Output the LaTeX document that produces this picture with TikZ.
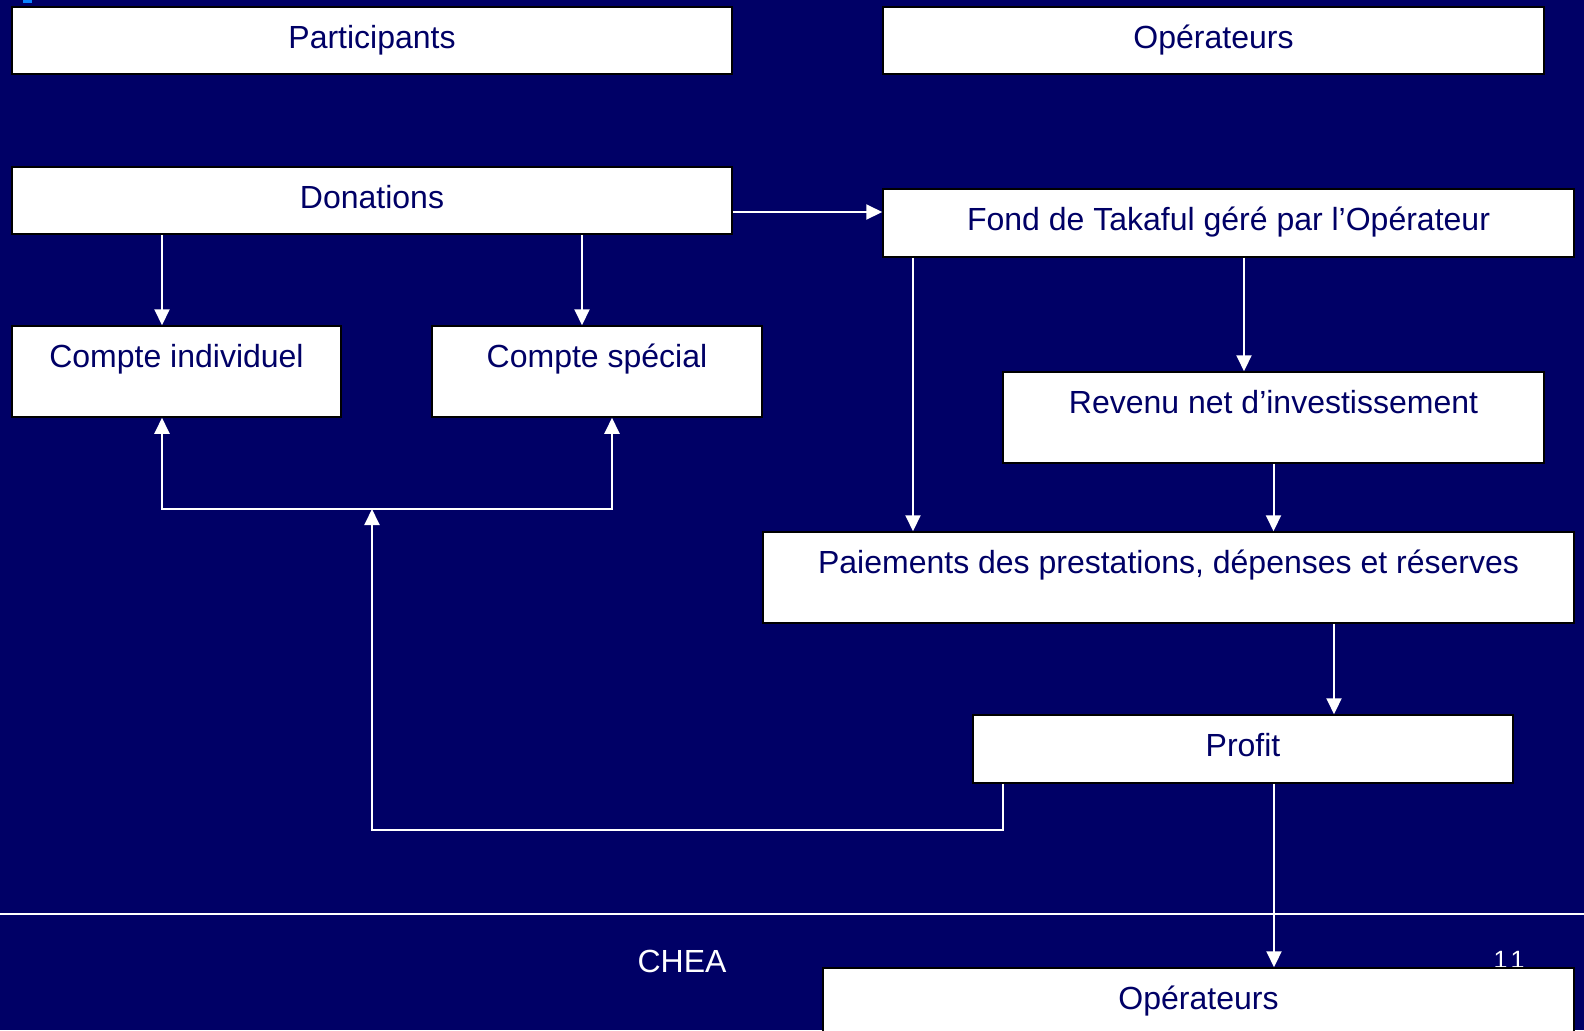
\documentclass[tikz,border=0pt]{standalone}
\usepackage{fontspec}
\setmainfont{Liberation Sans}
\usetikzlibrary{arrows.meta}
\definecolor{navy}{HTML}{000066}
\definecolor{markblue}{HTML}{0A84FF}
\begin{document}
\begin{tikzpicture}[x=0.5pt,y=-0.5pt,
  box/.style={draw=black, line width=0.75pt, fill=white, rectangle, inner sep=0pt},
  lbl/.style={text=navy, anchor=base, inner sep=0pt, font=\fontsize{16}{19}\selectfont},
  arr/.style={draw=white, line width=1pt, -{Triangle[width=7.5pt,length=8pt]}},
  wire/.style={draw=white, line width=1pt}]
\fill[navy] (0,0) rectangle (1584,1030);
\useasboundingbox (0,0) rectangle (1584,1030);
\fill[markblue] (23,0) rectangle (32,3);

% footer
\draw[wire] (0,914) -- (1584,914);
\node[text=white, anchor=base, inner sep=0pt, font=\fontsize{16}{19}\selectfont] (chea) at (682,972) {CHEA};
\node[text=white, anchor=base, inner sep=0pt, font=\fontsize{12.5}{14}\selectfont] (pg) at (1509,968) {1\kern1.5pt1};

% boxes
\node[box, minimum width=360pt, minimum height=33.5pt] (part) at (372,40.5) {};
\node[lbl] (tpart) at ([yshift=-21.3pt]part.north) {Participants};
\node[box, minimum width=330.5pt, minimum height=33.5pt] (opt) at (1213.5,40.5) {};
\node[lbl] (topt) at ([yshift=-21.3pt]opt.north) {Opérateurs};
\node[box, minimum width=360pt, minimum height=33.5pt] (don) at (372,200.5) {};
\node[lbl] (tdon) at ([yshift=-21.3pt]don.north) {Donations};
\node[box, minimum width=345.5pt, minimum height=34pt] (fond) at (1228.5,223) {};
\node[lbl] (tfond) at ([yshift=-21.3pt]fond.north) {Fond de Takaful géré par l’Opérateur};
\node[box, minimum width=164.5pt, minimum height=45.5pt] (ci) at (176.5,371.5) {};
\node[lbl] (tci) at ([yshift=-21.3pt]ci.north) {Compte individuel};
\node[box, minimum width=165pt, minimum height=45.5pt] (cs) at (597,371.5) {};
\node[lbl] (tcs) at ([yshift=-21.3pt]cs.north) {Compte spécial};
\node[box, minimum width=270.5pt, minimum height=45.5pt] (rev) at (1273.5,417.5) {};
\node[lbl] (trev) at ([yshift=-21.3pt]rev.north) {Revenu net d’investissement};
\node[box, minimum width=405.5pt, minimum height=45.5pt] (pai) at (1168.5,577.5) {};
\node[lbl] (tpai) at ([yshift=-21.3pt]pai.north) {Paiements des prestations, dépenses et réserves};
\node[box, minimum width=270pt, minimum height=34pt] (prof) at (1243,749) {};
\node[lbl] (tprof) at ([yshift=-21.3pt]prof.north) {Profit};
\node[box, minimum width=375.5pt, minimum height=46pt] (opb) at (1198.5,1014) {};
\node[lbl] (topb) at ([yshift=-21.3pt]opb.north) {Opérateurs};

% connector positions
\coordinate (a1) at (162,0);
\coordinate (a2) at (582,0);
\coordinate (a3) at (0,212);
\coordinate (a4) at (913,0);
\coordinate (a5) at (1244,0);
\coordinate (a7) at (1334,0);
\coordinate (a8) at (1274,0);
\coordinate (a9) at (1003,830);
\coordinate (a9b) at (372,509);
\coordinate (h1) at (162,509);
\coordinate (h2) at (612,509);

\draw[arr] (a1 |- don.south) -- (a1 |- ci.north);
\draw[arr] (a2 |- don.south) -- (a2 |- cs.north);
\draw[arr] (a3 -| don.east) -- (a3 -| fond.west);
\draw[arr] (a4 |- fond.south) -- (a4 |- pai.north);
\draw[arr] (a5 |- fond.south) -- (a5 |- rev.north);
\draw[arr] (rev.south) -- (rev.south |- pai.north);
\draw[arr] (a7 |- pai.south) -- (a7 |- prof.north);
\draw[arr] (a8 |- prof.south) -- (a8 |- opb.north);
\draw[arr] (a9 |- prof.south) -- (a9) -| (a9b);
\draw[draw=white, line width=1pt, {Triangle[width=7.5pt,length=8pt]}-{Triangle[width=7.5pt,length=8pt]}]
  (h1 |- ci.south) -- (h1) -- (h2) -- (h2 |- cs.south);
\end{tikzpicture}
\end{document}
